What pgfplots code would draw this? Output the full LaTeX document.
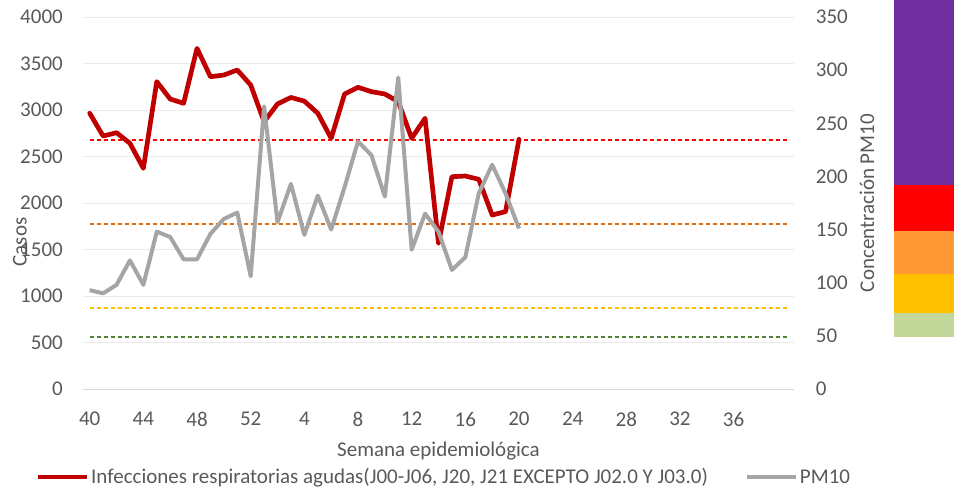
\documentclass[border=0pt]{standalone}
\usepackage{pgfplots}
\pgfplotsset{compat=1.18}
\usepackage{fontspec}
\setmainfont{Carlito}
\definecolor{txt}{HTML}{595959}
\definecolor{gridc}{HTML}{EBEBEB}
\definecolor{axc}{HTML}{D9D9D9}
\definecolor{ira}{HTML}{C00000}
\definecolor{pm}{HTML}{A5A5A5}
\definecolor{dred}{HTML}{FF0000}
\definecolor{dorange}{HTML}{E46C0A}
\definecolor{dyellow}{HTML}{FFC000}
\definecolor{dgreen}{HTML}{548235}
\definecolor{spurple}{HTML}{7030A0}
\definecolor{sred}{HTML}{FF0000}
\definecolor{sorange}{HTML}{FF9933}
\definecolor{syellow}{HTML}{FFC000}
\definecolor{sgreen}{HTML}{C4D79B}

\pgfplotstableread{
idx val
0 2965
1 2720
2 2756
3 2642
4 2373
5 3305
6 3118
7 3072
8 3663
9 3358
10 3376
11 3430
12 3269
13 2874
14 3065
15 3135
16 3095
17 2965
18 2696
19 3172
20 3244
21 3197
22 3172
23 3090
24 2696
25 2911
26 1567
27 2283
28 2290
29 2255
30 1871
31 1907
32 2685
}\iratable

\pgfplotstableread{
idx val
0 93
1 90
2 98
3 121
4 98
5 148
6 143
7 122
8 122
9 146
10 160
11 166
12 106
13 266
14 157
15 193
16 145
17 182
18 150
19 190
20 233
21 220
22 181
23 293
24 131
25 165
26 148
27 112
28 124
29 184
30 211
31 184
32 151
}\pmtable

\newcommand{\fs}{\fontsize{21}{25}\selectfont}

\begin{document}
\begin{tikzpicture}
\path[use as bounding box] (0,0) rectangle (954pt,-489pt);

% left axis
\begin{axis}[
  at={(83pt,-389pt)}, anchor=south west,
  scale only axis, width=711pt, height=372pt,
  xmin=-0.5, xmax=52.5, ymin=0, ymax=4000,
  axis x line*=bottom, axis y line*=left,
  x axis line style={draw=axc, line width=1pt, -},
  y axis line style={draw=none},
  ytick={0,500,...,4000},
  xtick={0,4,...,48},
  xticklabels={40,44,48,52,4,8,12,16,20,24,28,32,36},
  major tick length=0pt,
  ymajorgrids, grid style={draw=gridc, line width=1pt},
  scaled y ticks=false,
  /pgf/number format/assume math mode=true,
  /pgf/number format/set thousands separator={},
  tick label style={font=\fs, text=txt, inner sep=0pt},
  yticklabel style={anchor=east, xshift=-20pt},
  xticklabel style={anchor=north, yshift=-22.7pt},
  ylabel={Casos},
  ylabel style={font=\fs, text=txt, at={(axis description cs:-0.0886,0.395)}, anchor=center},
  xlabel={Semana epidemiológica},
  xlabel style={font=\fs, text=txt, at={(axis description cs:0.5,-0.167)}, anchor=center},
  clip=false,
]
\addplot[dred, line width=1.5pt, dash pattern=on 4pt off 3pt, forget plot] coordinates {(0,2677) (52,2677)};
\addplot[dorange, line width=1.5pt, dash pattern=on 4pt off 3pt, forget plot] coordinates {(0,1774) (52,1774)};
\addplot[dyellow, line width=1.5pt, dash pattern=on 4pt off 3pt, forget plot] coordinates {(0,871) (52,871)};
\addplot[dgreen, line width=1.5pt, dash pattern=on 4pt off 3pt, forget plot] coordinates {(0,559) (52,559)};
\addplot[ira, line width=4.7pt, line join=round, line cap=round, forget plot] table[x=idx, y=val] {\iratable};
\end{axis}

% right axis
\begin{axis}[
  at={(83pt,-389pt)}, anchor=south west,
  scale only axis, width=711pt, height=372pt,
  xmin=-0.5, xmax=52.5, ymin=0, ymax=350,
  axis y line*=right, axis x line=none,
  y axis line style={draw=none},
  ytick={0,50,...,350},
  major tick length=0pt,
  /pgf/number format/assume math mode=true,
  tick label style={font=\fs, text=txt, inner sep=0pt},
  yticklabel style={anchor=west, xshift=21.7pt},
  ylabel={Concentración PM10},
  ylabel style={font=\fs, text=txt, at={(axis description cs:1.1027,0.5)}, anchor=center},
  legend columns=2,
  legend cell align=left,
  legend style={draw=none, fill=none, inner sep=0pt, outer sep=0pt,
    at={(axis description cs:-0.0661,-0.2366)}, anchor=west,
    font=\fs, text=txt,
    nodes={inner sep=1.5pt},
    /tikz/every even column/.append style={column sep=36pt}},
  legend image code/.code={\draw[#1] (0pt,0pt) -- (49pt,0pt);},
  clip=false,
]
\addlegendimage{ira, line width=4.7pt}
\addlegendentry{Infecciones respiratorias agudas(J00-J06, J20, J21 EXCEPTO J02.0 Y J03.0)}
\addplot[pm, line width=4pt, line join=round] table[x=idx, y=val] {\pmtable};
\addlegendentry{PM10}
\end{axis}

% colour strip
\begin{axis}[
  at={(894pt,-337pt)}, anchor=south west,
  scale only axis, width=60pt, height=337pt,
  xmin=0, xmax=1, ymin=0, ymax=337,
  hide axis,
]
\addplot[fill=sgreen, draw=none] coordinates {(0,0) (1,0) (1,24) (0,24) (0,0)};
\addplot[fill=syellow, draw=none] coordinates {(0,24) (1,24) (1,63) (0,63) (0,24)};
\addplot[fill=sorange, draw=none] coordinates {(0,63) (1,63) (1,106) (0,106) (0,63)};
\addplot[fill=sred, draw=none] coordinates {(0,106) (1,106) (1,152) (0,152) (0,106)};
\addplot[fill=spurple, draw=none] coordinates {(0,152) (1,152) (1,337) (0,337) (0,152)};
\end{axis}
\end{tikzpicture}
\end{document}
